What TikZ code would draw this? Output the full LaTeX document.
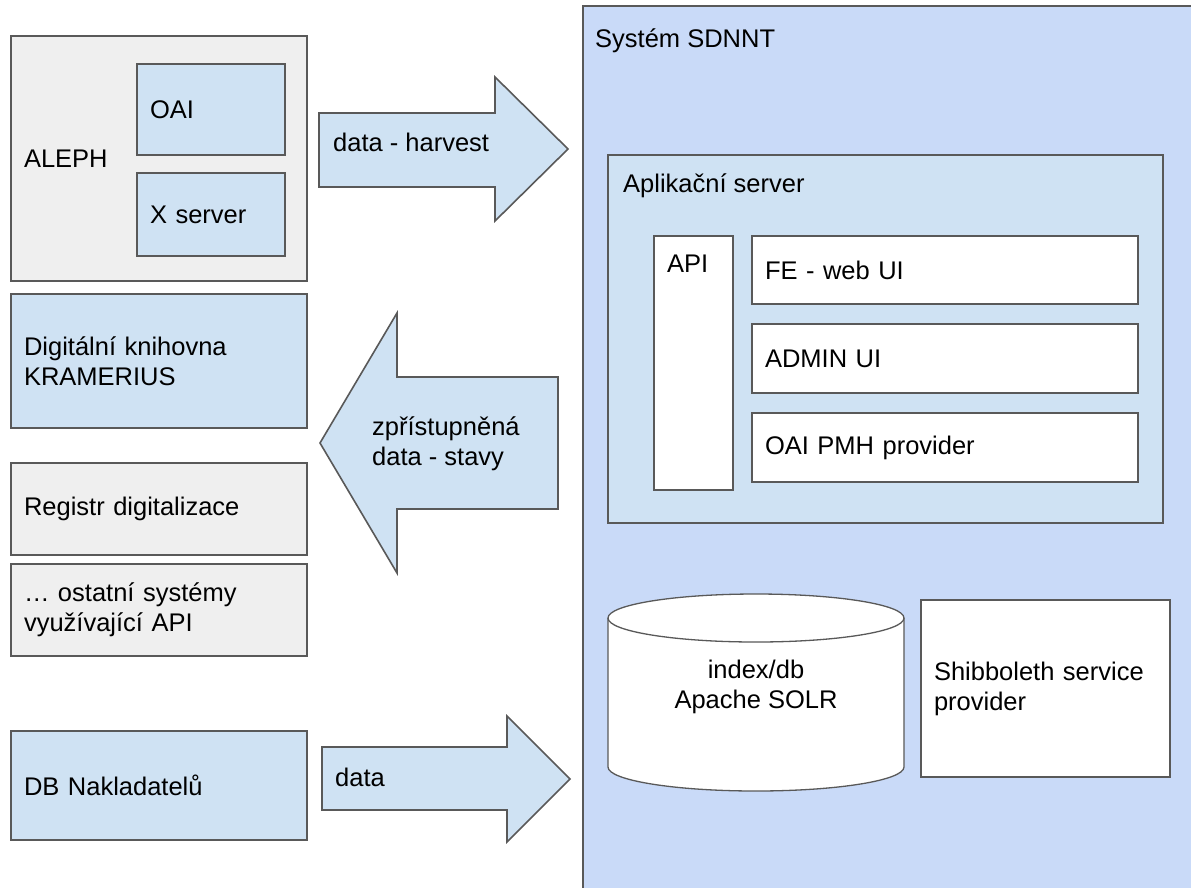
\documentclass[tikz,border=0pt]{standalone}
\usepackage{fontspec}
\setmainfont{Liberation Sans}
\definecolor{edge}{HTML}{595959}
\definecolor{paleblue}{HTML}{CFE2F3}
\definecolor{skyblue}{HTML}{C9DAF8}
\definecolor{palegray}{HTML}{EFEFEF}

\begin{document}
\begin{tikzpicture}[x=1pt, y=-1pt,
  every node/.style={font=\fontsize{25.5}{30}\selectfont},
  box/.style={draw=edge, line width=1.6pt, rectangle, inner xsep=13pt, inner ysep=0pt, align=left},
  graybox/.style={box, fill=palegray},
  bluebox/.style={box, fill=paleblue},
  whitebox/.style={box, fill=white},
  blockarrow/.style={draw=edge, line width=1.6pt, fill=paleblue},
  txt/.style={inner sep=0pt, align=left}]
  \clip (0,0) rectangle (1191,887);
  \fill[white] (0,0) rectangle (1191,887);

  % left column
  \node[graybox, minimum width=296pt, minimum height=245pt, text width=270pt] (aleph) at (159,158.5) {ALEPH};
  \node[bluebox, minimum width=148pt, minimum height=91pt, text width=122pt] (alephoai) at (211,109.5) {OAI};
  \node[bluebox, minimum width=148pt, minimum height=83pt, text width=122pt] (xserver) at (211,214.5) {X server};
  \node[bluebox, minimum width=296pt, minimum height=134pt, text width=270pt] (kramerius) at (159,361) {Digitální knihovna\\KRAMERIUS};
  \node[graybox, minimum width=296pt, minimum height=92pt, text width=270pt] (registr) at (159,509) {Registr digitalizace};
  \node[graybox, minimum width=296pt, minimum height=92pt, text width=270pt] (ostatni) at (159,610) {… ostatní systémy\\využívající API};
  \node[bluebox, minimum width=296pt, minimum height=109pt, text width=270pt] (nakladatele) at (159,785.5) {DB Nakladatelů};

  % system SDNNT
  \draw[line width=1.6pt, draw=edge, fill=skyblue] (583,6) rectangle (1210,900);
  \node[txt, anchor=base west] (sdnnt) at (595,47) {Systém SDNNT};

  \node[bluebox, minimum width=555pt, minimum height=368pt] (appserver) at (885.5,339) {};
  \node[txt, anchor=base west] (applabel) at (623,192) {Aplikační server};
  \node[whitebox, minimum width=79pt, minimum height=254pt] (api) at (693.5,363) {};
  \node[txt, anchor=base west] (apilabel) at (667,272) {API};
  \node[whitebox, minimum width=386pt, minimum height=68pt, text width=360pt] (feui) at (945,270) {FE - web UI};
  \node[whitebox, minimum width=386pt, minimum height=69pt, text width=360pt] (adminui) at (945,358.5) {ADMIN UI};
  \node[whitebox, minimum width=386pt, minimum height=69pt, text width=360pt] (oaipmh) at (945,447.5) {OAI PMH provider};

  % index / db
  \filldraw[draw=edge, line width=1.3pt, fill=white] (608,618) -- (608,767)
    arc[start angle=180, end angle=360, x radius=148pt, y radius=24pt] -- (904,618)
    arc[start angle=0, end angle=180, x radius=148pt, y radius=24pt] -- cycle;
  \draw[draw=edge, line width=1.3pt] (608,618) arc[start angle=180, end angle=360, x radius=148pt, y radius=24pt];
  \node[txt, align=center] (solr) at (756,687) {index/db\\Apache SOLR};
  \node[whitebox, minimum width=249pt, minimum height=177pt, text width=223pt] (shib) at (1045.5,688.5) {Shibboleth service\\provider};

  % block arrows
  \filldraw[blockarrow] (319,113) -- (495,113) -- (495,77) -- (568,149) -- (495,221) -- (495,187) -- (319,187) -- cycle;
  \node[txt, anchor=base west] (harvest) at (333,151) {data - harvest};
  \filldraw[blockarrow] (558,377) -- (397,377) -- (397,313) -- (320,443) -- (397,573) -- (397,509) -- (558,509) -- cycle;
  \node[txt, anchor=west] (stavy) at (372,444) {zpřístupněná\\data - stavy};
  \filldraw[blockarrow] (322,747) -- (507,747) -- (507,716) -- (570,779) -- (507,842) -- (507,810) -- (322,810) -- cycle;
  \node[txt, anchor=base west] (data) at (335,786) {data};
\end{tikzpicture}
\end{document}
